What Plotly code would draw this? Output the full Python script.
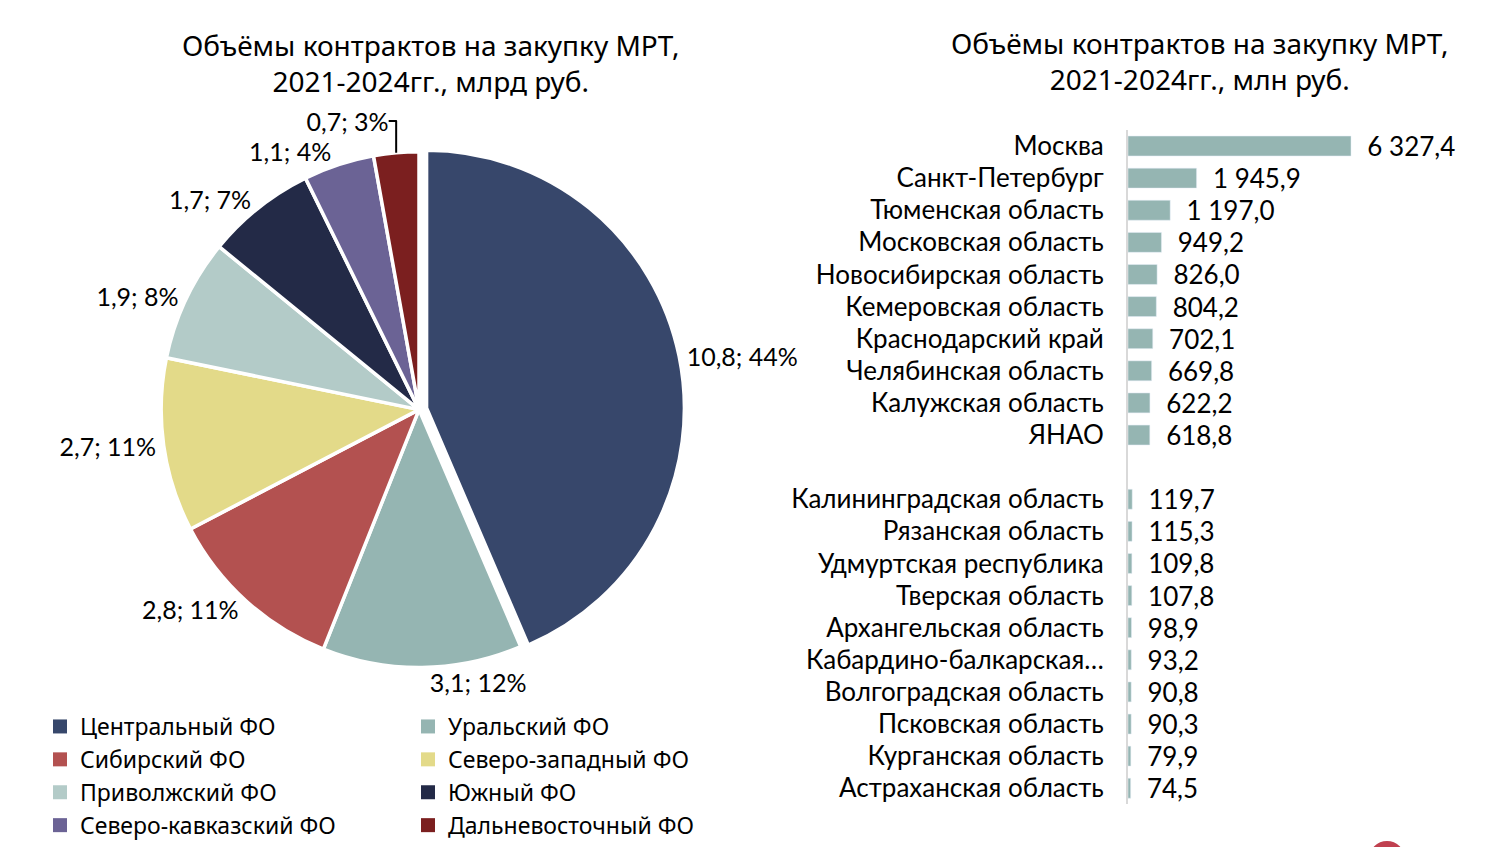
import plotly.graph_objects as go

# федеральные округа, млрд руб.
districts = ["Центральный ФО", "Уральский ФО", "Сибирский ФО", "Северо-западный ФО",
             "Приволжский ФО", "Южный ФО", "Северо-кавказский ФО", "Дальневосточный ФО"]
district_values = [10.8, 3.1, 2.8, 2.7, 1.9, 1.7, 1.1, 0.7]
district_labels = ["10,8; 44%", "3,1; 12%", "2,8; 11%", "2,7; 11%",
                   "1,9; 8%", "1,7; 7%", "1,1; 4%", "0,7; 3%"]
district_colors = ["#37476b", "#95b5b2", "#b35150", "#e3da89",
                   "#b3cbc8", "#232a47", "#6b6395", "#7b1f1f"]

# регионы, млн руб. (пустая строка - разрыв между топ-10 и нижними 10)
regions = ["Москва", "Санкт-Петербург", "Тюменская область", "Московская область",
           "Новосибирская область", "Кемеровская область", "Краснодарский край",
           "Челябинская область", "Калужская область", "ЯНАО", " ",
           "Калининградская область", "Рязанская область", "Удмуртская республика",
           "Тверская область", "Архангельская область", "Кабардино-балкарская…",
           "Волгоградская область", "Псковская область", "Курганская область",
           "Астраханская область"]
region_values = [6327.4, 1945.9, 1197.0, 949.2, 826.0, 804.2, 702.1, 669.8, 622.2, 618.8, None,
                 119.7, 115.3, 109.8, 107.8, 98.9, 93.2, 90.8, 90.3, 79.9, 74.5]


def fmt(v):
    if v is None:
        return ""
    return f"{v:,.1f}".replace(",", " ").replace(".", ",")


region_text = [fmt(v) for v in region_values]

# the page body has an 8px margin, so work in window pixels and shift
W, H = 1479, 839


def fx(x):
    return (x - 8) / W


def fy(y):
    return 1 - (y - 8) / H


label_font = "Lato, 'Open Sans', sans-serif"
title_font = "'Noto Sans', 'Open Sans', sans-serif"

fig = go.Figure()

# pie: center ~ (419, 412), radius ~260
box = 2 * 260 * 1.03
cx, cy = 419, 413
fig.add_trace(go.Pie(
    labels=districts,
    values=district_values,
    text=district_labels,
    texttemplate="%{text}",
    textposition="outside",
    textfont=dict(size=25, color="black", family=label_font),
    marker=dict(colors=district_colors, line=dict(color="white", width=3.5)),
    sort=False,
    direction="clockwise",
    rotation=0,
    pull=[0.03, 0, 0, 0, 0, 0, 0, 0],
    showlegend=False,
    domain=dict(x=[fx(cx - box / 2), fx(cx + box / 2)],
                y=[fy(cy + box / 2), fy(cy - box / 2)]),
))

# horizontal bars
fig.add_trace(go.Bar(
    y=regions,
    x=region_values,
    orientation="h",
    marker=dict(color="#95b5b2"),
    text=region_text,
    texttemplate="\u00a0\u00a0%{text}",
    textposition="outside",
    constraintext="none",
    textfont=dict(size=26, color="black", family=label_font),
    cliponaxis=False,
    showlegend=False,
    hoverinfo="y+x",
))

# legend entries in two columns (dummy traces)
for i, (name, col) in enumerate(zip(districts, district_colors)):
    fig.add_trace(go.Scatter(
        x=[None], y=[None], mode="markers", name=name,
        marker=dict(symbol="square", size=14, color=col),
        xaxis="x2", yaxis="y2",
        legend="legend" if i % 2 == 0 else "legend2",
    ))

legend_style = dict(font=dict(size=23, color="black", family=title_font),
                    bgcolor="rgba(0,0,0,0)", yanchor="top", xanchor="left",
                    orientation="v", itemclick=False, tracegroupgap=0)


def title(text, x, y):
    return dict(text=text, xref="paper", yref="paper", x=fx(x), y=fy(y),
                xanchor="center", yanchor="middle", showarrow=False, align="center",
                font=dict(size=28, color="black", family=title_font))


fig.update_layout(
    width=W, height=H,
    margin=dict(l=0, r=0, t=0, b=0),
    paper_bgcolor="white",
    plot_bgcolor="white",
    bargap=0.38,
    xaxis=dict(domain=[fx(1128), 1.0], range=[0, 10186], visible=False, fixedrange=True),
    yaxis=dict(domain=[fy(811), fy(131)], type="category",
               categoryorder="array", categoryarray=regions, autorange="reversed",
               showline=True, linecolor="#d9d9d9", linewidth=2, ticks="",
               ticklabelstandoff=17, showgrid=False, automargin=False,
               tickfont=dict(size=26, color="black", family=label_font)),
    xaxis2=dict(visible=False, domain=[0, 0.01], anchor="y2"),
    yaxis2=dict(visible=False, domain=[0, 0.01], anchor="x2"),
    legend=dict(x=fx(40), y=fy(711), **legend_style),
    legend2=dict(x=fx(408), y=fy(711), **legend_style),
    annotations=[
        title("Объёмы контрактов на закупку МРТ,<br>2021-2024гг., млрд руб.", 430, 63),
        title("Объёмы контрактов на закупку МРТ,<br>2021-2024гг., млн руб.", 1199, 61),
    ],
    shapes=[
        dict(type="circle", xref="paper", yref="paper",
             x0=fx(1369), x1=fx(1405), y0=fy(884), y1=fy(848),
             fillcolor="#c0404f", line=dict(width=0), layer="above"),
    ],
)

fig.write_html("out.html")
